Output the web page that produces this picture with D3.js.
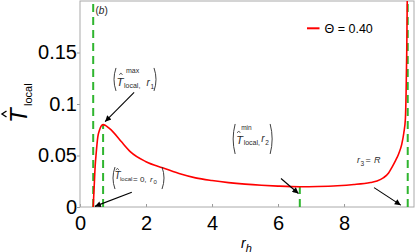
<!DOCTYPE html>
<html>
<head>
<meta charset="utf-8">
<script src="https://cdn.jsdelivr.net/npm/d3@7"></script>
<style>
  html, body { margin: 0; padding: 0; background: #fff; }
  svg { display: block; font-family: "Liberation Sans", Arial, sans-serif; }
</style>
</head>
<body>
<div id="chart"></div>
<script>
// Curve values (Theta = 0.40)
var rh = [0.40, 0.43, 0.46, 0.49, 0.54, 0.59, 0.64, 0.70, 0.78, 0.88, 1.0, 1.25, 1.53, 2.0, 2.5, 3.0, 3.5, 4.0, 4.5, 5.0, 5.5, 6.0, 6.66, 7.2, 7.8, 8.3, 8.8, 9.0, 9.2, 9.35, 9.46, 9.56, 9.66, 9.75, 9.81, 9.86, 9.88, 9.90, 9.915];
var tLocal = [0, 0.020, 0.040, 0.052, 0.068, 0.0745, 0.0785, 0.080, 0.079, 0.0765, 0.073, 0.0635, 0.0535, 0.044, 0.038, 0.0325, 0.0283, 0.0257, 0.0237, 0.0222, 0.0211, 0.0203, 0.0197, 0.0199, 0.0206, 0.0218, 0.0238, 0.0252, 0.0285, 0.033, 0.039, 0.045, 0.052, 0.061, 0.0716, 0.086, 0.11, 0.15, 0.20];

// special radii r0, r1, r2, R and the height where each dashed marker stops
var markerR = [0.40, 0.70, 6.66, 9.93];
var markerTop = [0.2, 0.080, 0.0197, 0.2];

var xTicks = [0, 2, 4, 6, 8];
var yTicks = [0, 0.05, 0.1, 0.15];
var yTickLabels = ["0", "0.05", "0.1", "0.15"];
var legendLabel = "\u0398 = 0.40";

// SVG area
var svgWidth = 415;
var svgHeight = 252;
var chartMargin = { top: 1, right: 1, bottom: 45, left: 80 };
var chartWidth = svgWidth - chartMargin.left - chartMargin.right;
var chartHeight = svgHeight - chartMargin.top - chartMargin.bottom;

var svg = d3.select("#chart")
    .append("svg")
    .attr("width", svgWidth)
    .attr("height", svgHeight);

var chartGroup = svg.append("g")
    .attr("transform", `translate(${chartMargin.left}, ${chartMargin.top})`);

var xScale = d3.scaleLinear().domain([0, 10.12]).range([0, chartWidth]);
var yScale = d3.scaleLinear().domain([0, 0.2]).range([chartHeight, 0]);

svg.append("defs").append("clipPath").attr("id", "plotClip")
    .append("rect").attr("width", chartWidth).attr("height", chartHeight);

var arrowDefs = svg.select("defs").append("marker")
    .attr("id", "arrow")
    .attr("viewBox", "0 0 10 10")
    .attr("refX", 10).attr("refY", 5)
    .attr("markerWidth", 8).attr("markerHeight", 6)
    .attr("markerUnits", "userSpaceOnUse")
    .attr("orient", "auto");
arrowDefs.append("path").attr("d", "M0,0 L10,5 L0,10 Z").attr("fill", "#000");

// axes
var bottomAxis = d3.axisBottom(xScale).tickValues(xTicks).tickSizeInner(-3).tickSizeOuter(0).tickPadding(9);
var leftAxis = d3.axisLeft(yScale).tickValues(yTicks).tickFormat((d, i) => yTickLabels[i])
    .tickSizeInner(3).tickSizeOuter(0).tickPadding(0);

var xAxisG = chartGroup.append("g")
    .attr("transform", `translate(0, ${chartHeight})`)
    .call(bottomAxis);
var yAxisG = chartGroup.append("g").call(leftAxis);

[xAxisG, yAxisG].forEach(function (g) {
    g.selectAll("path").remove();
    g.selectAll("line").attr("stroke", "#999");
    g.selectAll("text").attr("font-size", 20).attr("fill", "#000")
        .attr("font-family", "Liberation Sans, Arial, sans-serif");
});

// frame
chartGroup.append("rect")
    .attr("width", chartWidth).attr("height", chartHeight)
    .attr("fill", "none").attr("stroke", "#aaa").attr("stroke-width", 1);

// dashed markers
chartGroup.append("g").selectAll("line")
    .data(markerR)
    .enter()
    .append("line")
    .attr("x1", d => xScale(d)).attr("x2", d => xScale(d))
    .attr("y1", yScale(0))
    .attr("y2", (d, i) => yScale(markerTop[i]))
    .attr("stroke", "#2fb52f")
    .attr("stroke-width", 2)
    .attr("stroke-dasharray", "8,5");

// curve
var line = d3.line()
    .x(d => xScale(d[0]))
    .y(d => yScale(d[1]))
    .curve(d3.curveMonotoneX);

chartGroup.append("path")
    .datum(rh.map((r, i) => [r, tLocal[i]]))
    .attr("clip-path", "url(#plotClip)")
    .attr("d", line)
    .attr("fill", "none")
    .attr("stroke", "#ff0000")
    .attr("stroke-width", 1.6);

// legend
chartGroup.append("line")
    .attr("x1", chartWidth - 107).attr("x2", chartWidth - 94.5)
    .attr("y1", 27.3).attr("y2", 27.3)
    .attr("stroke", "#ff0000").attr("stroke-width", 2);
chartGroup.append("text")
    .attr("x", chartWidth - 89.5).attr("y", 31.5)
    .attr("font-size", 12.5)
    .text(legendLabel);

// panel tag
var tag = chartGroup.append("text").attr("x", 15.5).attr("y", 13)
    .attr("font-size", 10).attr("fill", "#222");
tag.append("tspan").text("(");
tag.append("tspan").attr("font-style", "italic").text("b");
tag.append("tspan").text(")");

// annotation helpers
var annoColor = "#2a2a2a";
function paren(g, x, h, left) {
    var dx = left ? -4 : 4;
    g.append("path")
        .attr("d", `M${x},0 Q${x + dx},${h / 2} ${x},${h}`)
        .attr("fill", "none").attr("stroke", annoColor).attr("stroke-width", 0.9);
}
function hat(g, x, y) {
    g.append("path")
        .attr("d", `M${x},${y} l1.6,-2 l1.6,2`)
        .attr("fill", "none").attr("stroke", annoColor).attr("stroke-width", 0.7);
}
function label(g, x, y, size, txt, italic) {
    return g.append("text").attr("x", x).attr("y", y)
        .attr("font-size", size).attr("fill", annoColor)
        .attr("font-style", italic ? "italic" : "normal")
        .text(txt);
}
function arrow(from, to) {
    chartGroup.append("line")
        .attr("x1", xScale(from[0])).attr("y1", yScale(from[1]))
        .attr("x2", xScale(to[0])).attr("y2", yScale(to[1]))
        .attr("stroke", "#000").attr("stroke-width", 1.1)
        .attr("marker-end", "url(#arrow)");
}

// (T^max_local, r1)
var a1 = chartGroup.append("g").attr("transform", `translate(${xScale(1.0)}, ${yScale(0.1350)})`);
paren(a1, 3, 23, true);
hat(a1, 6.3, 7);
label(a1, 13, 5, 7, "max");
label(a1, 3.5, 18, 11.5, "T", true);
label(a1, 11, 20, 7, "local,");
label(a1, 33.5, 18, 10, "r", true);
label(a1, 37.6, 21, 6.5, "1");
paren(a1, 41, 23, false);
arrow([1.64, 0.1113], [0.76, 0.0828]);

// (T_local = 0, r0)
var a2 = chartGroup.append("g").attr("transform", `translate(${xScale(0.97)}, ${yScale(0.0388)})`);
paren(a2, 3, 22, true);
hat(a2, 3.8, 3.2);
label(a2, 2.5, 12, 10, "T", true);
label(a2, 8, 14, 6, "local");
label(a2, 21, 15, 8, "= 0, ");
label(a2, 38, 15, 8, "r", true);
label(a2, 41.5, 17, 6, "0");
paren(a2, 50, 22, false);
arrow([1.57, 0.0143], [0.45, 0.0006]);

// (T^min_local, r2)
var a3 = chartGroup.append("g").attr("transform", `translate(${xScale(4.61)}, ${yScale(0.0806)})`);
paren(a3, 3, 30, true);
hat(a3, 5, 9);
label(a3, 9, 6.5, 6.5, "min");
label(a3, 4, 20, 11, "T", true);
label(a3, 11.5, 21.5, 7, "local,");
label(a3, 29, 18.5, 10, "r", true);
label(a3, 33.2, 21.5, 6.5, "2");
paren(a3, 38, 30, false);
arrow([6.09, 0.0277], [6.62, 0.0131]);

// r3 = R
var a4 = chartGroup.append("g").attr("transform", `translate(${xScale(8.39)}, ${yScale(0.0427)})`);
label(a4, 0, 0, 9, "r", true);
label(a4, 3.6, 2.5, 6.5, "3");
label(a4, 8.5, 0, 9, "= ");
label(a4, 17, 0, 9, "R", true);
arrow([8.91, 0.0188], [9.72, 0.0018]);

// axis titles
var xTitle = svg.append("text")
    .attr("x", chartMargin.left + chartWidth / 2 - 6)
    .attr("y", 248)
    .attr("font-size", 14);
xTitle.append("tspan").attr("font-style", "italic").text("r");
xTitle.append("tspan").attr("font-size", 11).attr("dy", 3.5).attr("font-style", "italic").text("h");

var yTitle = svg.append("g").attr("transform", "translate(27, 123) rotate(-90)");
yTitle.append("text").attr("x", 0).attr("y", 0)
    .attr("font-size", 24).attr("font-style", "italic").text("T");
yTitle.append("text").attr("x", 17).attr("y", 5)
    .attr("font-size", 11).text("local");
yTitle.append("path")
    .attr("d", "M6,-20.5 L9,-25 L12,-20.5")
    .attr("fill", "none").attr("stroke", "#000").attr("stroke-width", 1.4);
</script>
</body>
</html>
